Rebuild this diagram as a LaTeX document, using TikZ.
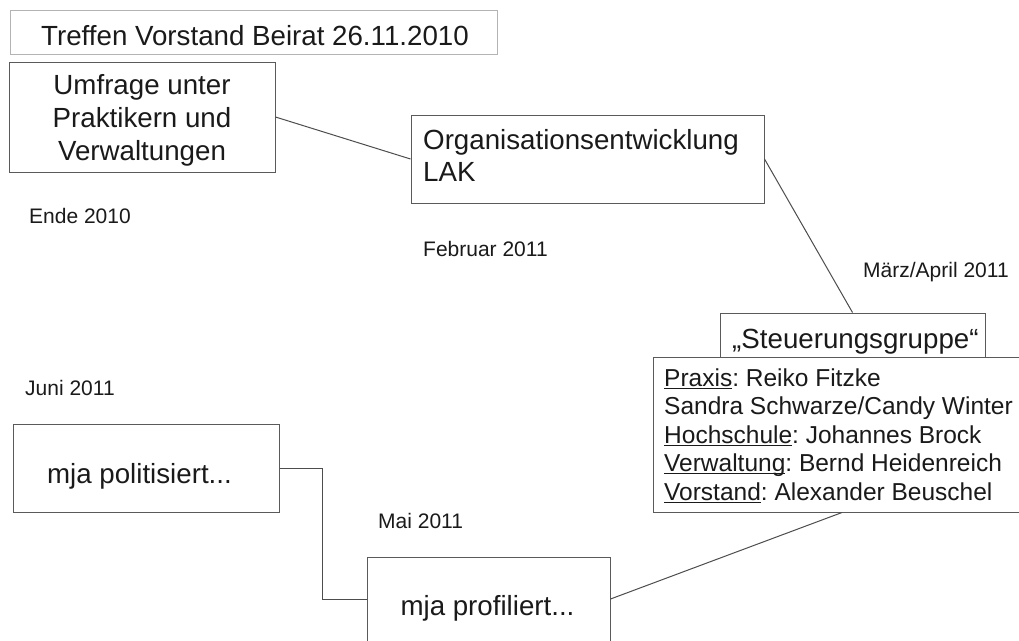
\documentclass[tikz,border=0pt]{standalone}
\usepackage{fontspec}
\setmainfont{Liberation Sans}
\definecolor{ink}{HTML}{1A1A1A}
\definecolor{boxgray}{HTML}{5A5A5A}
\definecolor{titlegray}{HTML}{B4B4B4}
\definecolor{linegray}{HTML}{4D4D4D}
\newcommand{\ulx}[1]{\setbox0\hbox{#1}\rlap{\rule[-2.6pt]{\wd0}{1pt}}\box0}
\frenchspacing
\begin{document}
\begin{tikzpicture}[x=1pt,y=-1pt,
  box/.style={draw=boxgray, fill=white, line width=1pt, rectangle, inner sep=0pt},
  conn/.style={draw=linegray, line width=1pt},
  bigtext/.style={font=\fontsize{27.7}{33}\selectfont, inner sep=0pt, text=ink},
  datetext/.style={font=\fontsize{21}{25}\selectfont, inner sep=0pt, anchor=base west, text=ink},
  teamtext/.style={font=\fontsize{24.5}{28.5}\selectfont, inner sep=0pt, anchor=base west, text=ink}]
\useasboundingbox (0,0) rectangle (1019,640);
\clip (0,0) rectangle (1019,640);
\fill[white] (0,0) rectangle (1019,640);
% boxes
\node[box, draw=titlegray, minimum width=486.5pt, minimum height=43.5pt] (title) at (253.75,32.25) {};
\node[box, minimum width=266pt, minimum height=110pt] (umf) at (142,117) {};
\node[box, minimum width=353pt, minimum height=88pt] (org) at (587.5,159) {};
\node[box, minimum width=265pt, minimum height=44pt] (steu) at (852.5,335) {};
\node[box, minimum width=378pt, minimum height=155pt] (team) at (842,434.5) {};
\node[box, minimum width=266pt, minimum height=88pt] (pol) at (146,468) {};
\node[box, minimum width=243pt, minimum height=84pt] (prof) at (488.5,599) {};
% texts
\node[bigtext, anchor=base] (titletext) at (255,45) {Treffen Vorstand Beirat 26.11.2010};
\node[bigtext, anchor=base] (umftext) at (142,94) {\begin{tabular}[t]{@{}c@{}}Umfrage unter\\Praktikern und\\Verwaltungen\end{tabular}};
\node[bigtext, font=\fontsize{27.7}{32}\selectfont, anchor=base west] (orgtext) at (423,149) {\begin{tabular}[t]{@{}l@{}}Organisationsentwicklung\\LAK\end{tabular}};
\node[bigtext, anchor=base west] (steutext) at (732,348) {„Steuerungsgruppe“};
\node[teamtext] (teamtext) at (664,386) {\begin{tabular}[t]{@{}l@{}}\ulx{Praxis}: Reiko Fitzke\\Sandra Schwarze/Candy Winter\\\ulx{Hochschule}: Johannes Brock\\\ulx{Verwaltung}: Bernd Heidenreich\\\ulx{Vorstand}: Alexander Beuschel\end{tabular}};
\node[bigtext, anchor=base] (poltext) at (139.5,483) {mja politisiert...};
\node[bigtext, anchor=base] (proftext) at (487.5,615) {mja profiliert...};
% dates
\node[datetext] (d1) at (29,223) {Ende 2010};
\node[datetext] (d2) at (423,256) {Februar 2011};
\node[datetext] (d3) at (863,277) {März/April 2011};
\node[datetext] (d4) at (25,395) {Juni 2011};
\node[datetext] (d5) at (378,528) {Mai 2011};
% connectors
\coordinate (elbow) at (322,468);
\draw[conn] (umf.east) -- (org.west);
\draw[conn] (org.east) -- (steu.north);
\draw[conn] (team.south) -- (prof.east);
\draw[conn] (pol.east) -- (elbow) |- (prof.west);
\end{tikzpicture}
\end{document}
